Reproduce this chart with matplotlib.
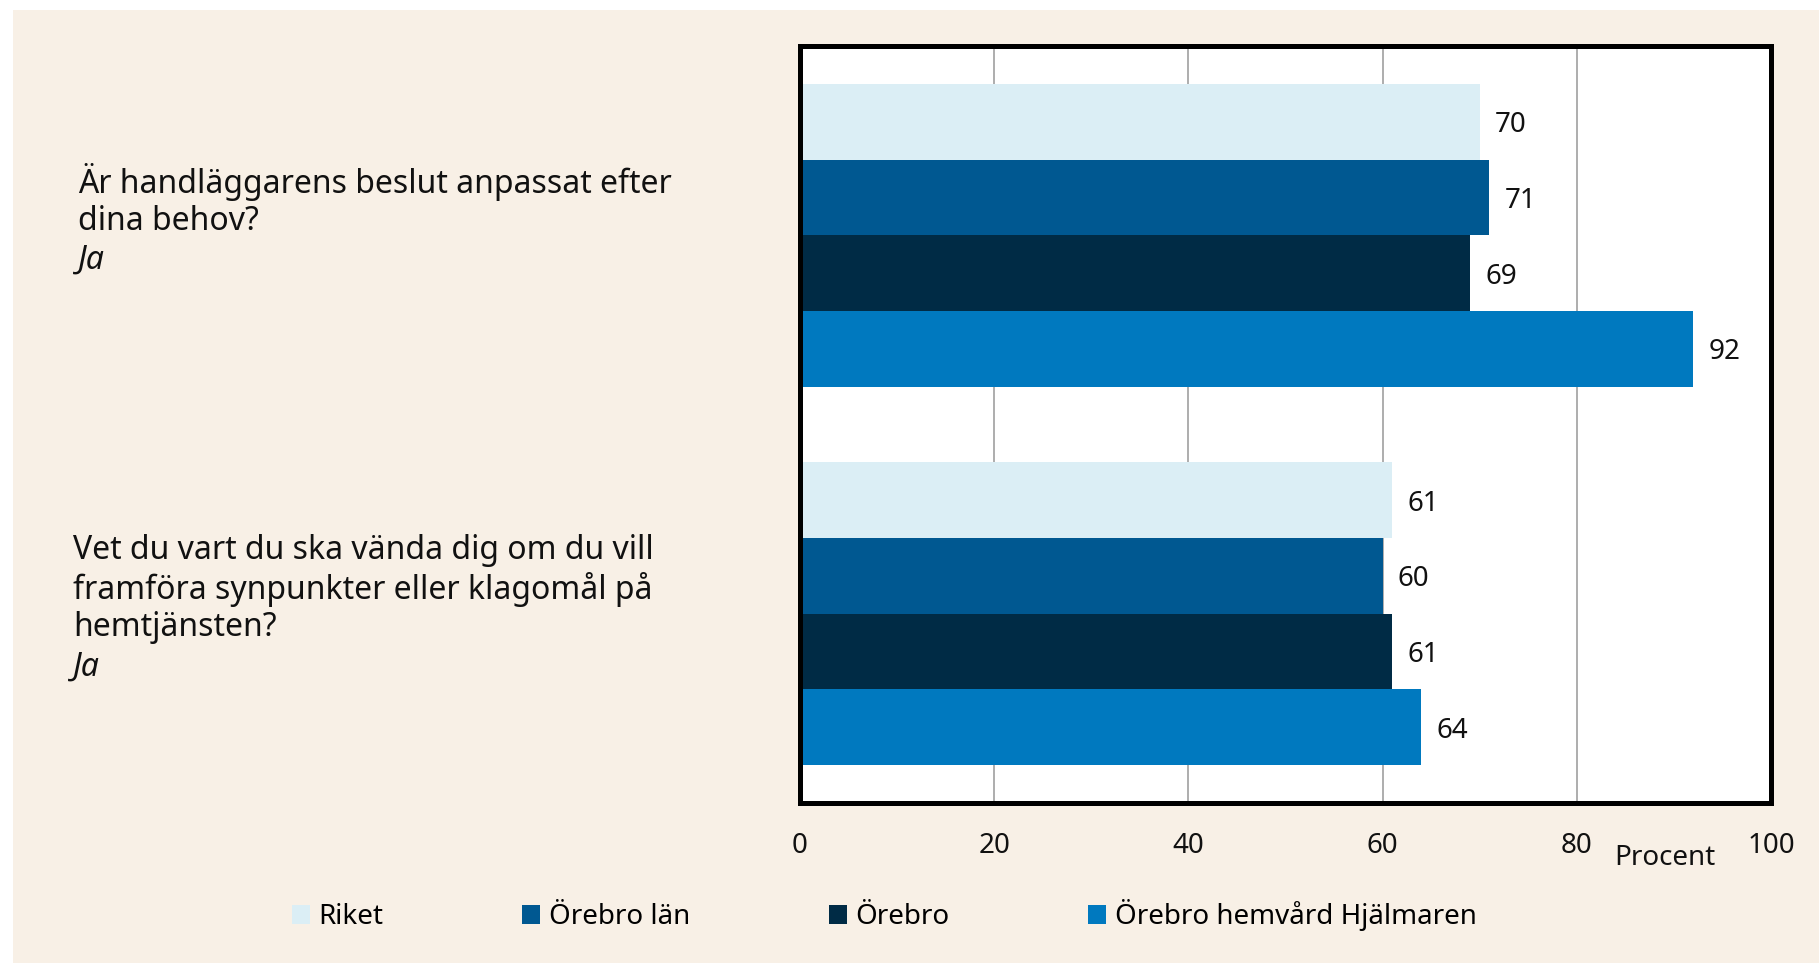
import matplotlib
matplotlib.use("Agg")
import matplotlib.pyplot as plt
from matplotlib.patches import Rectangle, Patch

plt.rcParams["font.family"] = ["Noto Sans", "DejaVu Sans"]

# data
series = ["Riket", "Örebro län", "Örebro", "Örebro hemvård Hjälmaren"]
colors = ["#dbeef5", "#005891", "#002b45", "#0079bf"]
q1_values = [70, 71, 69, 92]
q2_values = [61, 60, 61, 64]
questions = [
    ["Är handläggarens beslut anpassat efter", "dina behov?"],
    ["Vet du vart du ska vända dig om du vill", "framföra synpunkter eller klagomål på", "hemtjänsten?"],
]
answer = "Ja"
xticks = [0, 20, 40, 60, 80, 100]

W, H = 1819, 963
fig = plt.figure(figsize=(W / 100, H / 100), dpi=100)
fig.patch.set_facecolor("white")
fig.patches.append(Rectangle((13 / W, 0), 1 - 13 / W, 1 - 10 / H,
                             transform=fig.transFigure, facecolor="#f8f0e6",
                             edgecolor="none", zorder=-10))

ax = fig.add_axes([800 / W, 1 - 803 / H, 971 / W, 757 / H])
ax.set_facecolor("white")
ax.set_zorder(1)

offsets = [-1.5, -0.5, 0.5, 1.5]
centers = [2.5, 7.5]
for g, vals in enumerate([q1_values, q2_values]):
    for i, v in enumerate(vals):
        y = centers[g] + offsets[i]
        ax.barh(y, v, height=1.0, color=colors[i], zorder=2)
        ax.annotate(f"{v}", (v, y), xytext=(11, -2.5), textcoords="offset points",
                    ha="left", va="center", fontsize=20, color="#111111")

ax.set_xlim(0, 100)
ax.set_ylim(10, 0)
ax.set_yticks([])
ax.set_xticks(xticks)
ax.set_xticklabels([str(t) for t in xticks], fontsize=20, color="#111111")
ax.tick_params(axis="x", length=0, pad=21)
ax.grid(axis="x", color="#a0a0a0", linewidth=1.2, zorder=1)
ax.set_axisbelow(True)
for s in ax.spines.values():
    s.set_linewidth(3.6)
    s.set_color("black")
    s.set_zorder(3)

fig.text(1665 / W, 1 - 858 / H, "Procent", ha="center", va="center",
         fontsize=20, color="#111111")

# question labels
q_pos = [(78, [182, 221], 260), (73, [550, 589, 627], 667)]
for (x, ys, ja_y), lines in zip(q_pos, questions):
    for y, line in zip(ys, lines):
        fig.text(x / W, 1 - y / H, line, ha="left", va="center",
                 fontsize=23, color="#111111")
    fig.text(x / W, 1 - ja_y / H, answer, ha="left", va="center",
             fontsize=23, style="italic", color="#111111")

handles = [Patch(facecolor=c, edgecolor="none") for c in colors]
fig.legend(handles, series, loc="center left",
           bbox_to_anchor=(292 / W, 1 - 915 / H), bbox_transform=fig.transFigure,
           ncol=4, frameon=False, fontsize=20, borderpad=0, borderaxespad=0,
           handlelength=0.65, handleheight=0.65, handletextpad=0.3,
           columnspacing=5.0)

fig.savefig("out.png", dpi=100)
